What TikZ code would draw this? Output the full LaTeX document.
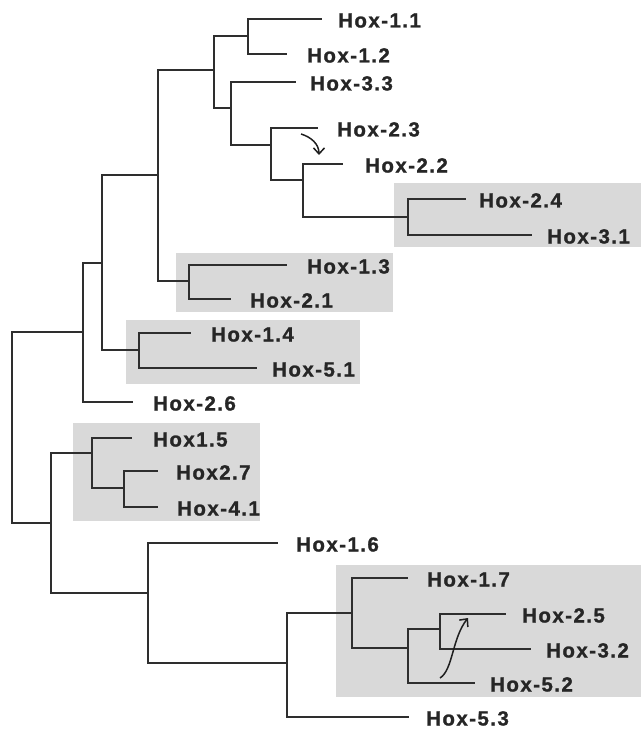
\documentclass[tikz,border=0pt]{standalone}
\usepackage{fontspec}
\newfontfamily\hoxfont{Liberation Sans}[LetterSpace=7,FakeBold=1.2]
\usetikzlibrary{arrows.meta}

% one leaf: end of its branch (#1) and its label (#1t)
\newcommand\hoxleaf[5]{%
  \coordinate (#1) at (#3,#2);
  \node[taxon] (#1t) at (#4,#2+8.5) {#5};}

\begin{document}
\begin{tikzpicture}[x=1pt,y=-1pt,
  branch/.style={draw=black!82, line width=1.6pt},
  taxon/.style={anchor=base west, inner sep=0pt, text=black!85,
    font=\hoxfont\bfseries\fontsize{20.5}{24}\selectfont},
  clade/.style={fill=black!15, draw=none},
  shift arrow/.style={draw=black!88, line width=1.5pt,
    -{Straight Barb[length=6pt,width=11pt]}}]
\useasboundingbox (0,0) rectangle (641,730);

% shaded clades
\fill[clade] (394,183) rectangle (641,247);
\fill[clade] (176,253) rectangle (393,312);
\fill[clade] (126,320) rectangle (360,384);
\fill[clade] (73,423) rectangle (260,521);
\fill[clade] (336,565) rectangle (641,697);

% internal nodes: x of the node, y where it joins its parent
\coordinate (root) at (12,430);
\coordinate (A) at (83,332);
\coordinate (B) at (102,263);
\coordinate (C) at (158,175);
\coordinate (D) at (139,350);
\coordinate (E) at (214,70);
\coordinate (F) at (189,281);
\coordinate (G) at (248,36);
\coordinate (H) at (231,108);
\coordinate (I) at (271,145);
\coordinate (J) at (303,180);
\coordinate (K) at (408,217);
\coordinate (L) at (51,523);
\coordinate (M) at (92,453);
\coordinate (O) at (124,488);
\coordinate (N) at (148,593);
\coordinate (P) at (287,663);
\coordinate (Q) at (352,613);
\coordinate (R) at (408,648);
\coordinate (S) at (440,629);

% leaves: name, y, branch end, label x, label
\hoxleaf{h11}{19}{322}{338}{Hox-1.1}
\hoxleaf{h12}{54}{287}{307}{Hox-1.2}
\hoxleaf{h33}{82}{296}{310}{Hox-3.3}
\hoxleaf{h23}{128}{318}{337}{Hox-2.3}
\hoxleaf{h22}{164}{343}{365}{Hox-2.2}
\hoxleaf{h24}{199}{466}{479}{Hox-2.4}
\hoxleaf{h31}{235}{532}{547}{Hox-3.1}
\hoxleaf{h13}{265}{287}{307}{Hox-1.3}
\hoxleaf{h21}{299}{231}{250}{Hox-2.1}
\hoxleaf{h14}{333}{191}{211}{Hox-1.4}
\hoxleaf{h51}{368}{257}{272}{Hox-5.1}
\hoxleaf{h26}{402}{133}{153}{Hox-2.6}
\hoxleaf{h15}{438}{132}{153}{Hox1.5}
\hoxleaf{h27}{471}{158}{176}{Hox2.7}
\hoxleaf{h41}{507}{158}{177}{Hox-4.1}
\hoxleaf{h16}{543}{278}{296}{Hox-1.6}
\hoxleaf{h17}{578}{408}{427}{Hox-1.7}
\hoxleaf{h25}{614}{506}{522}{Hox-2.5}
\hoxleaf{h32}{649}{531}{546}{Hox-3.2}
\hoxleaf{h52}{683}{475}{490}{Hox-5.2}
\hoxleaf{h53}{717}{409}{426}{Hox-5.3}

% branches
\draw[branch] (root) |- (A)  (root) |- (L);
\draw[branch] (A) |- (B)  (A) |- (h26);
\draw[branch] (B) |- (C)  (B) |- (D);
\draw[branch] (C) |- (E)  (C) |- (F);
\draw[branch] (E) |- (G)  (E) |- (H);
\draw[branch] (G) |- (h11)  (G) |- (h12);
\draw[branch] (H) |- (h33)  (H) |- (I);
\draw[branch] (I) |- (h23)  (I) |- (J);
\draw[branch] (J) |- (h22)  (J) |- (K);
\draw[branch] (K) |- (h24)  (K) |- (h31);
\draw[branch] (F) |- (h13)  (F) |- (h21);
\draw[branch] (D) |- (h14)  (D) |- (h51);
\draw[branch] (L) |- (M)  (L) |- (N);
\draw[branch] (M) |- (h15)  (M) |- (O);
\draw[branch] (O) |- (h27)  (O) |- (h41);
\draw[branch] (N) |- (h16)  (N) |- (P);
\draw[branch] (P) |- (Q)  (P) |- (h53);
\draw[branch] (Q) |- (h17)  (Q) |- (R);
\draw[branch] (R) |- (S)  (R) |- (h52);
\draw[branch] (S) |- (h25)  (S) |- (h32);

% curved arrows marking moved genes
\coordinate (a1) at (301,134);
\coordinate (a2) at (319,155);
\draw[shift arrow] (a1) .. controls (311,137) and (319,144) .. (a2);
\coordinate (b1) at (440,678);
\coordinate (b2) at (468,618);
\draw[shift arrow] (b1) .. controls (453,670) and (452,638) .. (b2);
\end{tikzpicture}
\end{document}
